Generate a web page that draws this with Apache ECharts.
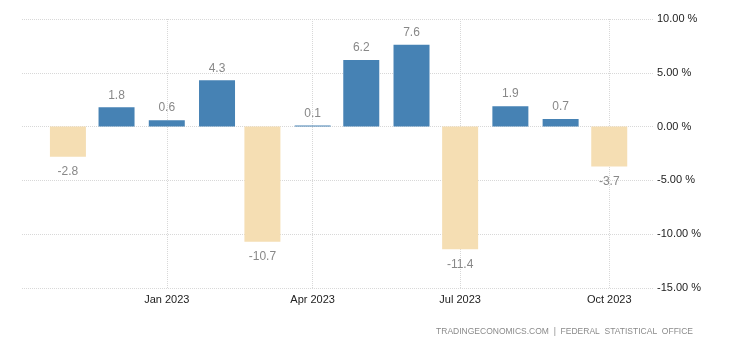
<!DOCTYPE html>
<html>
<head>
<meta charset="utf-8">
<script src="https://cdn.jsdelivr.net/npm/echarts@6/dist/echarts.min.js"></script>
<style>
html,body{margin:0;padding:0;background:#fff;}
#chart{width:740px;height:345px;}
</style>
</head>
<body>
<div id="chart"></div>
<script>
// Monthly change (%), Nov 2022 – Oct 2023
const months = ['2022-11-01','2022-12-01','2023-01-01','2023-02-01','2023-03-01','2023-04-01',
                '2023-05-01','2023-06-01','2023-07-01','2023-08-01','2023-09-01','2023-10-01'];
const values = [-2.8, 1.8, 0.6, 4.3, -10.7, 0.1, 6.2, 7.6, -11.4, 1.9, 0.7, -3.7];
const tickDates = ['2023-01-01','2023-04-01','2023-07-01','2023-10-01'];
const yTicks = [-15, -10, -5, 0, 5, 10];
const monthNames = ['Jan','Feb','Mar','Apr','May','Jun','Jul','Aug','Sep','Oct','Nov','Dec'];
const sourceText = 'TRADINGECONOMICS.COM  |  FEDERAL  STATISTICAL  OFFICE';

function ts(s){ const p = s.split('-').map(Number); return Date.UTC(p[0], p[1]-1, p[2]); }

const tickTs = tickDates.map(ts);
const POS = '#4682B4', NEG = '#F5DEB3';

const data = months.map((m, i) => ({
  value: [ts(m), values[i]],
  itemStyle: { color: values[i] < 0 ? NEG : POS },
  label: values[i] < 0 ? { position: 'bottom', distance: 9 } : { position: 'top', distance: 6 }
}));

const chart = echarts.init(document.getElementById('chart'), null, { renderer: 'canvas' });
chart.setOption({
  animation: false,
  backgroundColor: '#fff',
  textStyle: { fontFamily: 'Liberation Sans, Arial, sans-serif' },
  grid: { left: 22, right: 87, top: 19, bottom: 57, containLabel: false },
  graphic: [{
    type: 'text', right: 47, top: 327,
    style: { text: sourceText, fill: '#8a8a8a', font: '8.5px "Liberation Sans", Arial, sans-serif' }
  }],
  xAxis: {
    type: 'value',
    min: Date.UTC(2022, 9, 3, 16),
    max: Date.UTC(2023, 9, 28),
    axisLine: { show: false },
    axisTick: { show: false, customValues: tickTs },
    axisLabel: {
      customValues: tickTs,
      color: '#222', fontSize: 11, margin: 6,
      formatter: v => { const d = new Date(v); return monthNames[d.getUTCMonth()] + ' ' + d.getUTCFullYear(); }
    },
    splitLine: { show: true, customValues: tickTs, lineStyle: { color: '#d8d8d8', type: [1, 1], width: 1 } }
  },
  yAxis: {
    type: 'value', position: 'right',
    min: yTicks[0], max: yTicks[yTicks.length - 1], interval: 5,
    axisLine: { show: false }, axisTick: { show: false },
    axisLabel: { color: '#222', fontSize: 11, margin: 4, formatter: v => v.toFixed(2) + ' %' },
    splitLine: { lineStyle: { color: '#d8d8d8', type: [1, 1], width: 1 } }
  },
  series: [{
    type: 'bar',
    data: data,
    barWidth: 36,
    label: {
      show: true, color: '#888', fontSize: 12,
      formatter: p => p.value[1].toFixed(1)
    }
  }]
});
</script>
</body>
</html>
